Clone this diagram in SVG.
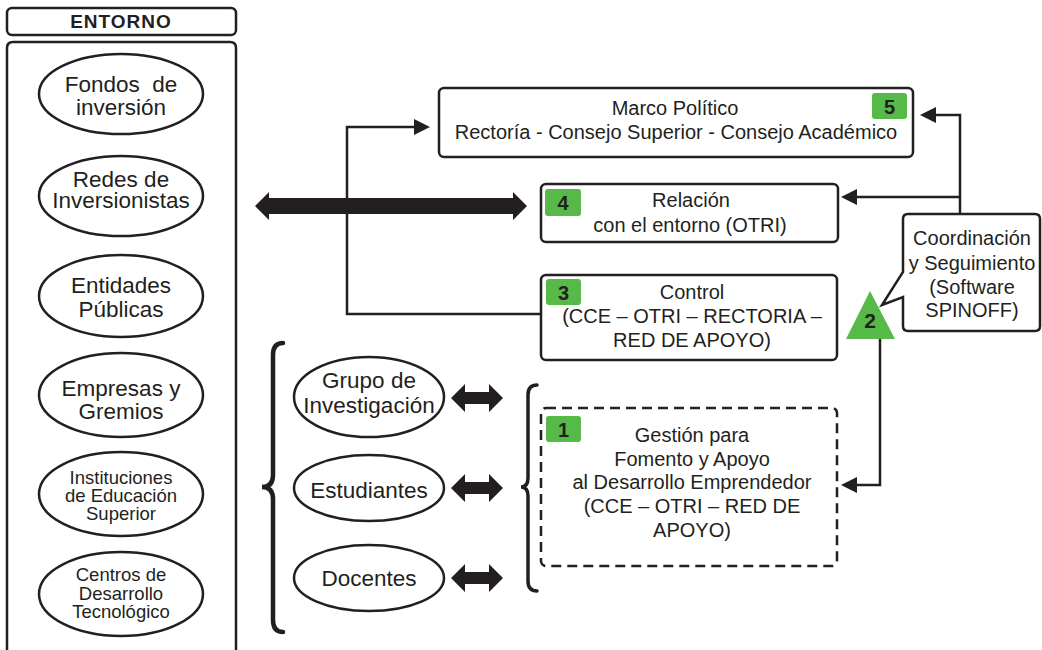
<svg xmlns="http://www.w3.org/2000/svg" width="1042" height="650" viewBox="0 0 1042 650">
  <defs>
    <style>
      .box { fill: #ffffff; stroke: #231f20; stroke-width: 2.5; }
      .dash { fill: #ffffff; stroke: #231f20; stroke-width: 2.5; stroke-dasharray: 10 6; }
      .ell { fill: #ffffff; stroke: #231f20; stroke-width: 2.5; }
      .t { font-family: "Liberation Sans", Arial, sans-serif; fill: #231f20; text-anchor: middle; }
      .big { font-size: 22.5px; }
      .mid { font-size: 20px; }
      .sm { font-size: 18.5px; }
      .bold { font-weight: bold; }
      .badge { fill: #57b948; }
      .line { fill: none; stroke: #231f20; stroke-width: 2.5; }
      .brace { fill: none; stroke: #231f20; stroke-linecap: round; }
      .fat { fill: #231f20; }
    </style>
    <marker id="head" viewBox="0 0 16 16" refX="1" refY="8" markerWidth="16" markerHeight="16" markerUnits="userSpaceOnUse" orient="auto">
      <path d="M0,0 L16,8 L0,16 Z" fill="#231f20"/>
    </marker>
  </defs>

  <rect width="1042" height="650" fill="#ffffff"/>

  <!-- Environment column -->
  <g id="entorno-title">
    <rect class="box" x="7" y="8" width="229" height="27" rx="5"/>
    <text class="t bold" x="121" y="28" font-size="19" letter-spacing="1">ENTORNO</text>
  </g>
  <g id="entorno">
    <path class="box" d="M7,660 V48 Q7,42 13,42 H230 Q236,42 236,48 V660"/>
  </g>
  <g id="fondos">
    <ellipse class="ell" cx="121" cy="94" rx="82" ry="40"/>
    <text class="t big" xml:space="preserve"><tspan x="121" y="92">Fondos  de</tspan><tspan x="121" y="115">inversión</tspan></text>
  </g>
  <g id="redes">
    <ellipse class="ell" cx="121" cy="196" rx="82" ry="40"/>
    <text class="t big"><tspan x="121" y="187">Redes de</tspan><tspan x="121" y="208">Inversionistas</tspan></text>
  </g>
  <g id="entidades">
    <ellipse class="ell" cx="121" cy="296" rx="82" ry="41"/>
    <text class="t big"><tspan x="121" y="293">Entidades</tspan><tspan x="121" y="317">Públicas</tspan></text>
  </g>
  <g id="empresas">
    <ellipse class="ell" cx="121" cy="395" rx="82" ry="42"/>
    <text class="t big"><tspan x="121" y="396">Empresas y</tspan><tspan x="121" y="419">Gremios</tspan></text>
  </g>
  <g id="instituciones">
    <ellipse class="ell" cx="121" cy="494" rx="82" ry="42"/>
    <text class="t sm"><tspan x="121" y="484">Instituciones</tspan><tspan x="121" y="502">de Educación</tspan><tspan x="121" y="520">Superior</tspan></text>
  </g>
  <g id="centros">
    <ellipse class="ell" cx="121" cy="594" rx="82" ry="42"/>
    <text class="t sm"><tspan x="121" y="581">Centros de</tspan><tspan x="121" y="600">Desarrollo</tspan><tspan x="121" y="618">Tecnológico</tspan></text>
  </g>

  <!-- Institutional actors -->
  <g id="grupo">
    <ellipse class="ell" cx="369" cy="397" rx="75" ry="40"/>
    <text class="t big"><tspan x="369" y="388">Grupo de</tspan><tspan x="369" y="413">Investigación</tspan></text>
  </g>
  <g id="estudiantes">
    <ellipse class="ell" cx="369" cy="488" rx="75" ry="33"/>
    <text class="t big" x="369" y="498">Estudiantes</text>
  </g>
  <g id="docentes">
    <ellipse class="ell" cx="369" cy="578" rx="75" ry="33"/>
    <text class="t big" x="369" y="586">Docentes</text>
  </g>

  <!-- Process boxes -->
  <g id="marco">
    <rect class="box" x="439" y="88" width="474" height="69" rx="5"/>
    <text class="t mid"><tspan x="675" y="115">Marco Político</tspan><tspan x="676" y="139">Rectoría - Consejo Superior - Consejo Académico</tspan></text>
    <rect class="badge" x="872" y="93" width="35" height="26" rx="3"/>
    <text class="t mid bold" x="889.5" y="114">5</text>
  </g>
  <g id="relacion">
    <rect class="box" x="541" y="184" width="297" height="58" rx="5"/>
    <text class="t mid"><tspan x="691" y="207">Relación</tspan><tspan x="690" y="232">con el entorno (OTRI)</tspan></text>
    <rect class="badge" x="545" y="189" width="36" height="27" rx="3"/>
    <text class="t mid bold" x="563" y="210">4</text>
  </g>
  <g id="control">
    <rect class="box" x="541" y="275" width="296" height="85" rx="5"/>
    <text class="t mid"><tspan x="692" y="299">Control</tspan><tspan x="692" y="323">(CCE – OTRI – RECTORIA –</tspan><tspan x="692" y="347">RED DE APOYO)</tspan></text>
    <rect class="badge" x="546" y="279" width="35" height="26" rx="3"/>
    <text class="t mid bold" x="563.5" y="300">3</text>
  </g>
  <g id="gestion">
    <rect class="dash" x="541" y="408" width="296" height="158" rx="5"/>
    <text class="t mid"><tspan x="692" y="442">Gestión para</tspan><tspan x="692" y="466">Fomento y Apoyo</tspan><tspan x="692" y="489">al Desarrollo Emprendedor</tspan><tspan x="692" y="513">(CCE – OTRI – RED DE</tspan><tspan x="692" y="537">APOYO)</tspan></text>
    <rect class="badge" x="546" y="416" width="35" height="26" rx="3"/>
    <text class="t mid bold" x="563.5" y="437">1</text>
  </g>
  <g id="coordinacion">
    <path class="box" d="M908,214 H1035 Q1040,214 1040,219 V326 Q1040,331 1035,331 H908 Q903,331 903,326 V297 L882,305 L903,272 V219 Q903,214 908,214 Z"/>
    <text class="t mid"><tspan x="972" y="245">Coordinación</tspan><tspan x="972" y="270">y Seguimiento</tspan><tspan x="972" y="294">(Software</tspan><tspan x="972" y="317">SPINOFF)</tspan></text>
  </g>
  <g id="seguimiento">
    <polygon class="badge" points="870,291 895,339 846,339"/>
    <text class="t bold" x="870" y="328" font-size="21">2</text>
  </g>

  <!-- Connectors -->
  <g id="connectors">
    <path class="line" d="M541,314 H347 V127 H415" marker-end="url(#head)"/>
    <path class="line" d="M960,214 V115 H935" marker-end="url(#head)"/>
    <path class="line" d="M960,197 H856" marker-end="url(#head)"/>
    <path class="line" d="M880,339 V485 H856" marker-end="url(#head)"/>
    <polygon class="fat" points="255,206 269,192 269,198 513,198 513,192 527,206 513,220 513,214 269,214 269,220"/>
    <polygon class="fat" points="451,398 465,384 465,392 489,392 489,384 503,398 489,412 489,404 465,404 465,412"/>
    <polygon class="fat" points="451,488 465,474 465,482 489,482 489,474 503,488 489,502 489,494 465,494 465,502"/>
    <polygon class="fat" points="451,578 465,564 465,572 489,572 489,564 503,578 489,592 489,584 465,584 465,592"/>
    <path class="brace" stroke-width="4.5" d="M283,343 Q273,343 273,355 V475 Q273,487 262,487 Q273,487 273,499 V620 Q273,632 283,632"/>
    <path class="brace" stroke-width="3.5" d="M537,385 Q528,385 528,395 V478 Q528,487 521,487 Q528,487 528,496 V581 Q528,591 537,591"/>
  </g>
</svg>
